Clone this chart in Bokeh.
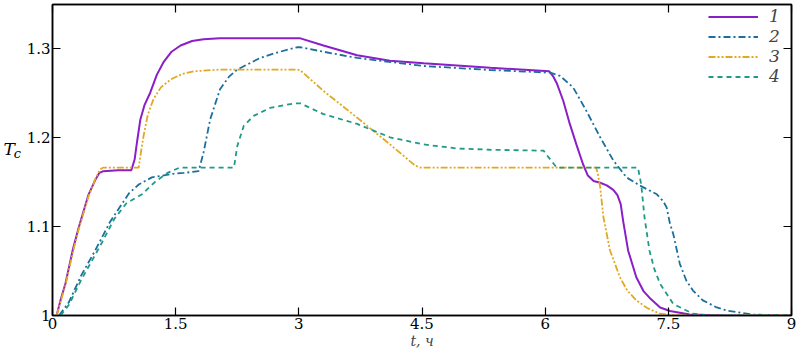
from bokeh.plotting import figure
from bokeh.layouts import row
from bokeh.models import (Range1d, LinearAxis, FixedTicker, Legend, LegendItem,
                          CustomLabelingPolicy)
from bokeh.core.properties import value
from bokeh.embed import file_html
from bokeh.resources import INLINE

# ---- data ----
t1 = [0.05, 0.10, 0.158, 0.25, 0.32, 0.44, 0.52, 0.57, 0.62, 0.80, 0.96, 1.00, 1.03, 1.07, 1.12,
      1.19, 1.27, 1.35, 1.45, 1.56, 1.70, 1.84, 2.04, 2.5, 3.02, 3.30, 3.71, 4.11, 4.52, 5.33,
      6.05, 6.10, 6.14, 6.22, 6.30, 6.38, 6.46, 6.52, 6.59, 6.67, 6.75, 6.83, 6.88, 6.92, 6.95,
      7.01, 7.11, 7.20, 7.27, 7.40, 7.52, 7.76, 8.2, 9.0]
T1 = [1.000, 1.018, 1.036, 1.075, 1.099, 1.136, 1.152, 1.160, 1.162, 1.163, 1.163, 1.175, 1.195,
      1.220, 1.236, 1.250, 1.270, 1.284, 1.296, 1.303, 1.308, 1.310, 1.311, 1.311, 1.311, 1.303,
      1.292, 1.286, 1.283, 1.278, 1.274, 1.268, 1.261, 1.241, 1.215, 1.192, 1.170, 1.157, 1.151,
      1.149, 1.146, 1.141, 1.135, 1.125, 1.106, 1.073, 1.043, 1.027, 1.020, 1.009, 1.005, 1.001,
      1.000, 1.000]

t2 = [0.08, 0.2, 0.35, 0.52, 0.70, 0.93, 1.05, 1.21, 1.47, 1.60, 1.78, 1.84, 1.92, 2.04, 2.15,
      2.25, 2.53, 2.73, 2.98, 3.02, 3.30, 3.71, 4.52, 5.33, 6.06, 6.18, 6.34, 6.50, 6.67, 6.83,
      6.99, 7.15, 7.36, 7.44, 7.48, 7.52, 7.56, 7.64, 7.72, 7.80, 7.92, 8.09, 8.21, 8.53, 9.0]
T2 = [1.000, 1.015, 1.045, 1.073, 1.105, 1.137, 1.147, 1.155, 1.159, 1.160, 1.162, 1.183, 1.220,
      1.254, 1.268, 1.276, 1.289, 1.295, 1.301, 1.301, 1.296, 1.289, 1.280, 1.2755, 1.2725, 1.269,
      1.256, 1.230, 1.200, 1.174, 1.155, 1.146, 1.136, 1.128, 1.121, 1.103, 1.0915, 1.058, 1.039,
      1.028, 1.017, 1.009, 1.0056, 1.001, 1.000]

t3 = [0.05, 0.10, 0.158, 0.25, 0.32, 0.44, 0.52, 0.58, 0.62, 1.05, 1.08, 1.11, 1.16, 1.23, 1.32,
      1.44, 1.58, 1.72, 2.04, 2.98, 3.02, 3.30, 3.71, 4.11, 4.42, 4.48, 6.62, 6.64, 6.67, 6.71,
      6.79, 6.91, 7.00, 7.11, 7.25, 7.40, 7.6, 9.0]
T3 = [1.000, 1.016, 1.034, 1.072, 1.097, 1.134, 1.153, 1.164, 1.166, 1.166, 1.185, 1.202, 1.225,
      1.243, 1.256, 1.265, 1.271, 1.274, 1.276, 1.276, 1.275, 1.252, 1.222, 1.192, 1.168, 1.166,
      1.166, 1.160, 1.144, 1.110, 1.073, 1.043, 1.028, 1.017, 1.008, 1.002, 1.000, 1.000]

t4 = [0.10, 0.20, 0.35, 0.58, 0.75, 0.90, 1.09, 1.25, 1.40, 1.55, 2.21, 2.25, 2.33, 2.45, 2.65,
      2.94, 3.02, 3.30, 3.71, 4.11, 4.52, 4.92, 5.33, 5.98, 6.02, 6.14, 7.13, 7.17, 7.21, 7.27,
      7.33, 7.40, 7.56, 7.80, 8.0, 9.0]
T4 = [1.000, 1.012, 1.040, 1.078, 1.108, 1.126, 1.136, 1.150, 1.160, 1.166, 1.166, 1.190, 1.213,
      1.224, 1.233, 1.238, 1.238, 1.226, 1.215, 1.200, 1.192, 1.1875, 1.186, 1.185, 1.180, 1.166,
      1.166, 1.147, 1.110, 1.073, 1.052, 1.0355, 1.013, 1.002, 1.000, 1.000]

series_names = ["1", "2", "3", "4"]
x_ticks = [0, 1.5, 3, 4.5, 6, 7.5, 9]
x_tick_labels = ["0", "1.5", "3", "4.5", "6", "7.5", "9"]
y_ticks = [1.0, 1.1, 1.2, 1.3]
y_tick_labels = ["1", "1.1", "1.2", "1.3"]
x_title = "t, ч"
y_title_main, y_title_sub = "T", "c"

colors = ["#8a1fc8", "#1c6f9c", "#e2a823", "#1f9a88"]
dashes = ["solid", "7 3 2 3", "7 2 2 2 2 2", "5 4"]
widths = [2.0, 1.8, 1.8, 1.8]

FONT = "DejaVu Serif"
H = 354
LAB_W = 22

# ---- narrow strip holding the horizontal y title T_c ----
lab = figure(width=LAB_W, height=H, output_backend="svg", toolbar_location=None,
             x_range=Range1d(0, LAB_W), y_range=Range1d(0, H), min_border=0)
lab.axis.visible = False
lab.grid.visible = False
lab.outline_line_color = None
lab.background_fill_color = "white"
lab.border_fill_color = "white"
lab.text(x=[3.0], y=[H - 165], text=[y_title_main], text_font=value(FONT),
         text_font_style="italic", text_font_size="17px", text_baseline="alphabetic",
         text_color="black")
lab.text(x=[13.3], y=[H - 170], text=[y_title_sub], text_font=value(FONT),
         text_font_style="italic", text_font_size="13px", text_baseline="alphabetic",
         text_color="black")

# ---- main chart ----
p = figure(width=800 - LAB_W, height=H, output_backend="svg", toolbar_location=None,
           x_range=Range1d(0, 9), y_range=Range1d(1.0, 1.349),
           min_border_left=52 - LAB_W, min_border_right=9, min_border_top=4, min_border_bottom=39)
p.background_fill_color = "white"
p.border_fill_color = "white"
p.outline_line_color = "black"
p.outline_line_width = 1.5
p.grid.visible = False

renderers = []
for tx, ty, c, d, w in zip([t1, t2, t3, t4], [T1, T2, T3, T4], colors, dashes, widths):
    r = p.line(tx, ty, line_color=c, line_dash=d, line_width=w)
    renderers.append(r)

def style_axis(ax, ticks, labels, show_labels=True):
    ax.ticker = FixedTicker(ticks=ticks)
    ax.major_tick_in = 8
    ax.major_tick_out = 0
    ax.minor_tick_in = 0
    ax.minor_tick_out = 0
    ax.major_tick_line_color = "black"
    ax.major_tick_line_width = 1.2
    ax.axis_line_color = "black"
    ax.axis_line_width = 1.5
    ax.axis_label_standoff = 0
    ax.major_label_text_font = FONT
    ax.major_label_text_color = "black"
    if show_labels:
        ax.major_label_overrides = {t: l for t, l in zip(ticks, labels)}
        ax.major_label_text_font_size = "15px"
        ax.major_label_standoff = 3
    else:
        ax.major_label_text_font_size = "1px"
        ax.major_label_standoff = 0
        ax.major_label_policy = CustomLabelingPolicy(
            code="for (const i of indices) { indices.unset(i) } return indices")

xa = p.xaxis[0]
style_axis(xa, x_ticks, x_tick_labels)
xa.major_label_standoff = 2
xa.axis_label = x_title
xa.axis_label_text_font = FONT
xa.axis_label_text_font_style = "italic"
xa.axis_label_text_font_size = "14px"
xa.axis_label_text_align = "left"
xa.axis_label_standoff = 1

ya = p.yaxis[0]
style_axis(ya, y_ticks, y_tick_labels)
ya.major_label_standoff = 2

top = LinearAxis()
style_axis(top, x_ticks, x_tick_labels, show_labels=False)
p.add_layout(top, "above")
right = LinearAxis()
style_axis(right, y_ticks, y_tick_labels, show_labels=False)
p.add_layout(right, "right")

legend = Legend(items=[LegendItem(label=n, renderers=[r]) for n, r in zip(series_names, renderers)],
                location=(656, 229), border_line_color=None, background_fill_alpha=0,
                glyph_width=50, glyph_height=19, label_standoff=11, label_width=22,
                spacing=0, padding=0, margin=0,
                label_text_font=FONT, label_text_font_style="italic",
                label_text_font_size="17px", label_height=19)
p.add_layout(legend, "center")

layout = row(lab, p, spacing=0)
open("out.html", "w").write(file_html(layout, INLINE))
